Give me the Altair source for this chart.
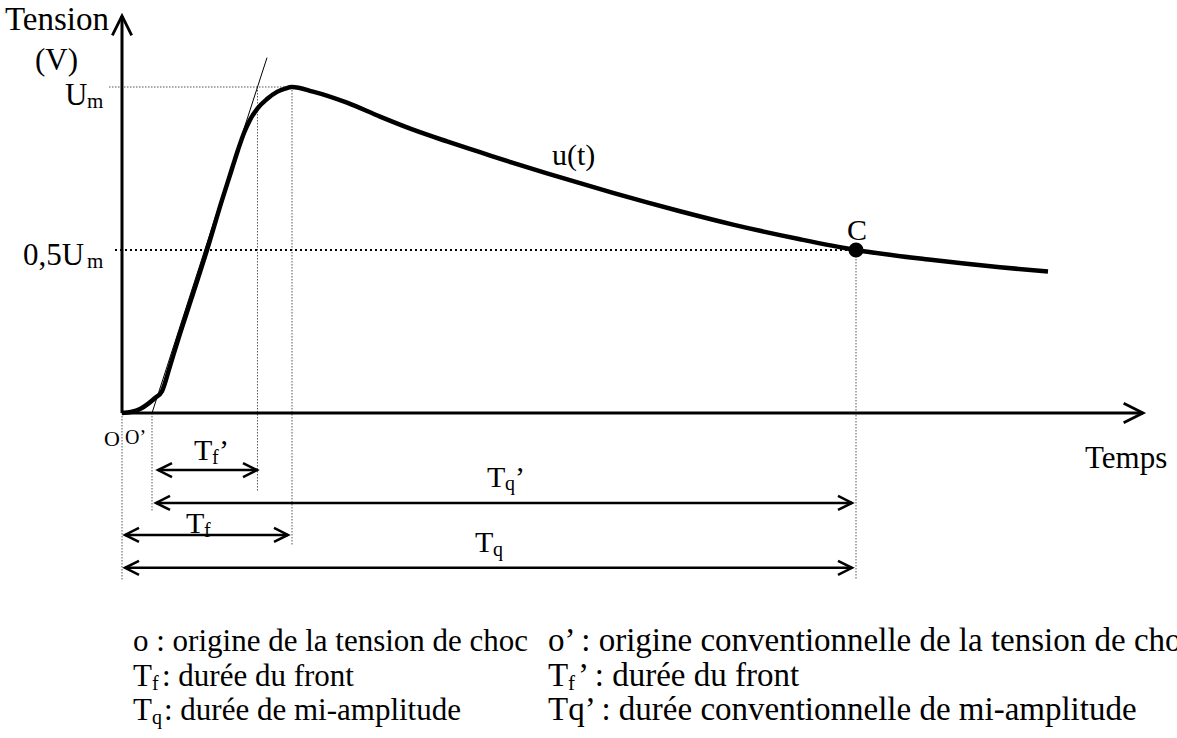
import altair as alt
import pandas as pd

# Impulse voltage u(t): time in arbitrary units, voltage in units of U_m
T_CURVE = [0, 0.9, 1.8, 2.6, 3.3, 4.0, 4.8, 5.6, 6.9, 8.5, 10.0, 10.8, 11.6, 12.2,
           12.8, 13.6, 14.5, 15.5, 16.3, 17.0, 19.1, 22.5, 25.8, 29.1, 32.5, 35.8,
           39.1, 42.5, 45.8, 49.1, 52.5, 55.8, 61.1, 67.8, 73.4, 81.1, 87.8, 92.6]
U_CURVE = [0, 0.003, 0.012, 0.028, 0.046, 0.067, 0.144, 0.224, 0.347, 0.500, 0.653,
           0.730, 0.807, 0.859, 0.899, 0.936, 0.963, 0.985, 0.995, 1.0, 0.986, 0.952,
           0.909, 0.869, 0.833, 0.800, 0.767, 0.735, 0.705, 0.675, 0.646, 0.619,
           0.578, 0.533, 0.5, 0.469, 0.447, 0.434]

# characteristic instants
T_O = 0.0          # origin of the impulse
T_O_PRIME = 3.0    # conventional origin (tangent meets the time axis)
T_FRONT_CONV = 13.55
T_PEAK = 17.0
T_HALF = 73.4      # point C, u = 0.5 U_m
U_PEAK = 1.0
U_HALF = 0.5

# tangent through the steep part of the front
TANGENT_T = [T_O_PRIME, 14.5]
TANGENT_U = [0.0, 1.09]

# thin dotted guides: (t, u) -> (t2, u2)
GUIDE_T1 = [-1.3, T_O, T_O_PRIME, T_FRONT_CONV, T_PEAK, T_HALF]
GUIDE_U1 = [U_PEAK, 0.0, 0.0, U_PEAK, U_PEAK, U_HALF]
GUIDE_T2 = [T_PEAK, T_O, T_O_PRIME, T_FRONT_CONV, T_PEAK, T_HALF]
GUIDE_U2 = [U_PEAK, -0.512, -0.304, -0.242, -0.405, -0.512]

# dimension arrows below the time axis
DIM_NAMES = ["Tf'", "Tq'", "Tf", "Tq"]
DIM_START = [3.6, 3.4, 0.3, 0.3]
DIM_END = [13.5, 73.0, 16.6, 73.0]
DIM_LEVEL = [-0.175, -0.276, -0.374, -0.475]

# axes
X_AXIS_END = 102.1
Y_AXIS_END = 1.218

# annotation texts: (t, u, text, font size)
LABEL_T = [-11.7, -8.7, -5.7, -3.5, -9.9, -3.5, -1.8, 0.3, 43.0, 72.5, 96.3,
           7.2, 9.0, 9.7, 36.5, 38.3, 39.3, 6.4, 8.2, 35.3, 37.1]
LABEL_U = [1.175, 1.052, 0.945, 0.936, 0.454, 0.445, -0.101, -0.095, 0.761, 0.531,
           -0.169, -0.144, -0.156, -0.144, -0.227, -0.236, -0.227, -0.368, -0.380,
           -0.426, -0.439]
LABEL_TEXT = ["Tension", "(V)", "U", "m", "0,5U", "m", "O", "O’", "u(t)", "C", "Temps",
              "T", "f", "’", "T", "q", "’", "T", "f", "T", "q"]
LABEL_SIZE = [33, 31, 31, 21, 31, 21, 22, 20, 30, 30, 31,
              30, 20, 30, 30, 20, 30, 30, 20, 30, 20]

# key below the chart
KEY_T = [1.1, 42.6, 1.1, 3.0, 4.0, 42.6, 44.6, 45.6, 1.1, 3.0, 4.2, 42.6]
KEY_U = [-0.730, -0.730, -0.837, -0.850, -0.837, -0.837, -0.850, -0.837,
         -0.942, -0.954, -0.942, -0.942]
KEY_TEXT = ["o : origine de la tension de choc",
            "o’ : origine conventionnelle de la tension de choc",
            "T", "f", ": durée du front",
            "T", "f", "’ : durée du front",
            "T", "q", ": durée de mi-amplitude",
            "Tq’ : durée conventionnelle de mi-amplitude"]
KEY_SIZE = [31, 33, 31, 20, 31, 33, 21, 33, 31, 20, 31, 33]

FONT = "Liberation Serif"
CHEVRON = "M-1,-0.5L0,0L-1,0.5"

xs = alt.Scale(domain=[-12.2, 105.5], nice=False, zero=False)
ys = alt.Scale(domain=[-0.99693, 1.26687], nice=False, zero=False)


def seg_enc():
    return dict(
        x=alt.X("t:Q", scale=xs, axis=None),
        y=alt.Y("u:Q", scale=ys, axis=None),
        x2="t2:Q",
        y2="u2:Q",
    )


def pt_enc():
    return dict(
        x=alt.X("t:Q", scale=xs, axis=None),
        y=alt.Y("u:Q", scale=ys, axis=None),
    )


curve_df = pd.DataFrame({"t": T_CURVE, "u": U_CURVE})

guides_df = pd.DataFrame({"t": GUIDE_T1, "u": GUIDE_U1, "t2": GUIDE_T2, "u2": GUIDE_U2})
half_df = pd.DataFrame({"t": [-0.7], "u": [U_HALF], "t2": [T_HALF], "u2": [U_HALF]})
tangent_df = pd.DataFrame({"t": [TANGENT_T[0]], "u": [TANGENT_U[0]],
                           "t2": [TANGENT_T[1]], "u2": [TANGENT_U[1]]})
axes_df = pd.DataFrame({"t": [T_O, T_O], "u": [0.0, 0.0],
                        "t2": [X_AXIS_END, T_O], "u2": [0.0, Y_AXIS_END]})
dims_df = pd.DataFrame({"name": DIM_NAMES, "t": DIM_START, "u": DIM_LEVEL,
                        "t2": DIM_END, "u2": DIM_LEVEL})

heads_df = pd.DataFrame({
    "t": DIM_START + DIM_END,
    "u": DIM_LEVEL + DIM_LEVEL,
    "ang": [180] * len(DIM_START) + [0] * len(DIM_END),
})
axis_heads_df = pd.DataFrame({"t": [X_AXIS_END, T_O], "u": [0.0, Y_AXIS_END],
                              "ang": [0, 270]})

point_df = pd.DataFrame({"t": [T_HALF], "u": [U_HALF]})
labels_df = pd.DataFrame({"t": LABEL_T + KEY_T, "u": LABEL_U + KEY_U,
                          "text": LABEL_TEXT + KEY_TEXT, "size": LABEL_SIZE + KEY_SIZE})

guides = alt.Chart(guides_df).mark_rule(
    color="#555555", strokeWidth=1, strokeDash=[1.5, 1.5]
).encode(**seg_enc())

half = alt.Chart(half_df).mark_rule(
    color="black", strokeWidth=2.2, strokeDash=[2, 3]
).encode(**seg_enc())

tangent = alt.Chart(tangent_df).mark_rule(color="black", strokeWidth=1).encode(**seg_enc())

axes = alt.Chart(axes_df).mark_rule(color="black", strokeWidth=3).encode(**seg_enc())

dims = alt.Chart(dims_df).mark_rule(color="black", strokeWidth=2.5).encode(**seg_enc())

heads = alt.Chart(heads_df).mark_point(
    shape=CHEVRON, filled=False, color="black", strokeWidth=2.5, opacity=1,
    size=784, strokeJoin="miter"
).encode(angle=alt.Angle("ang:Q", scale=None), **pt_enc())

axis_heads = alt.Chart(axis_heads_df).mark_point(
    shape=CHEVRON, filled=False, color="black", strokeWidth=2.8, opacity=1,
    size=1500, strokeJoin="miter"
).encode(angle=alt.Angle("ang:Q", scale=None), **pt_enc())

curve = alt.Chart(curve_df).mark_line(
    color="black", strokeWidth=4.5, interpolate="monotone"
).encode(**pt_enc())

point_c = alt.Chart(point_df).mark_point(
    shape="circle", filled=True, color="black", size=230, opacity=1
).encode(**pt_enc())

labels = alt.Chart(labels_df).mark_text(
    font=FONT, color="black", align="left", baseline="alphabetic", clip=True
).encode(text="text:N", size=alt.Size("size:Q", scale=None), **pt_enc())

chart = alt.layer(
    guides, half, tangent, axes, dims, heads, axis_heads, curve, point_c, labels
).properties(
    width=1177, height=738, padding=0, autosize="none", background="white"
).configure_view(stroke=None)

chart.save("out.html", embed_options={"renderer": "svg", "actions": False})
